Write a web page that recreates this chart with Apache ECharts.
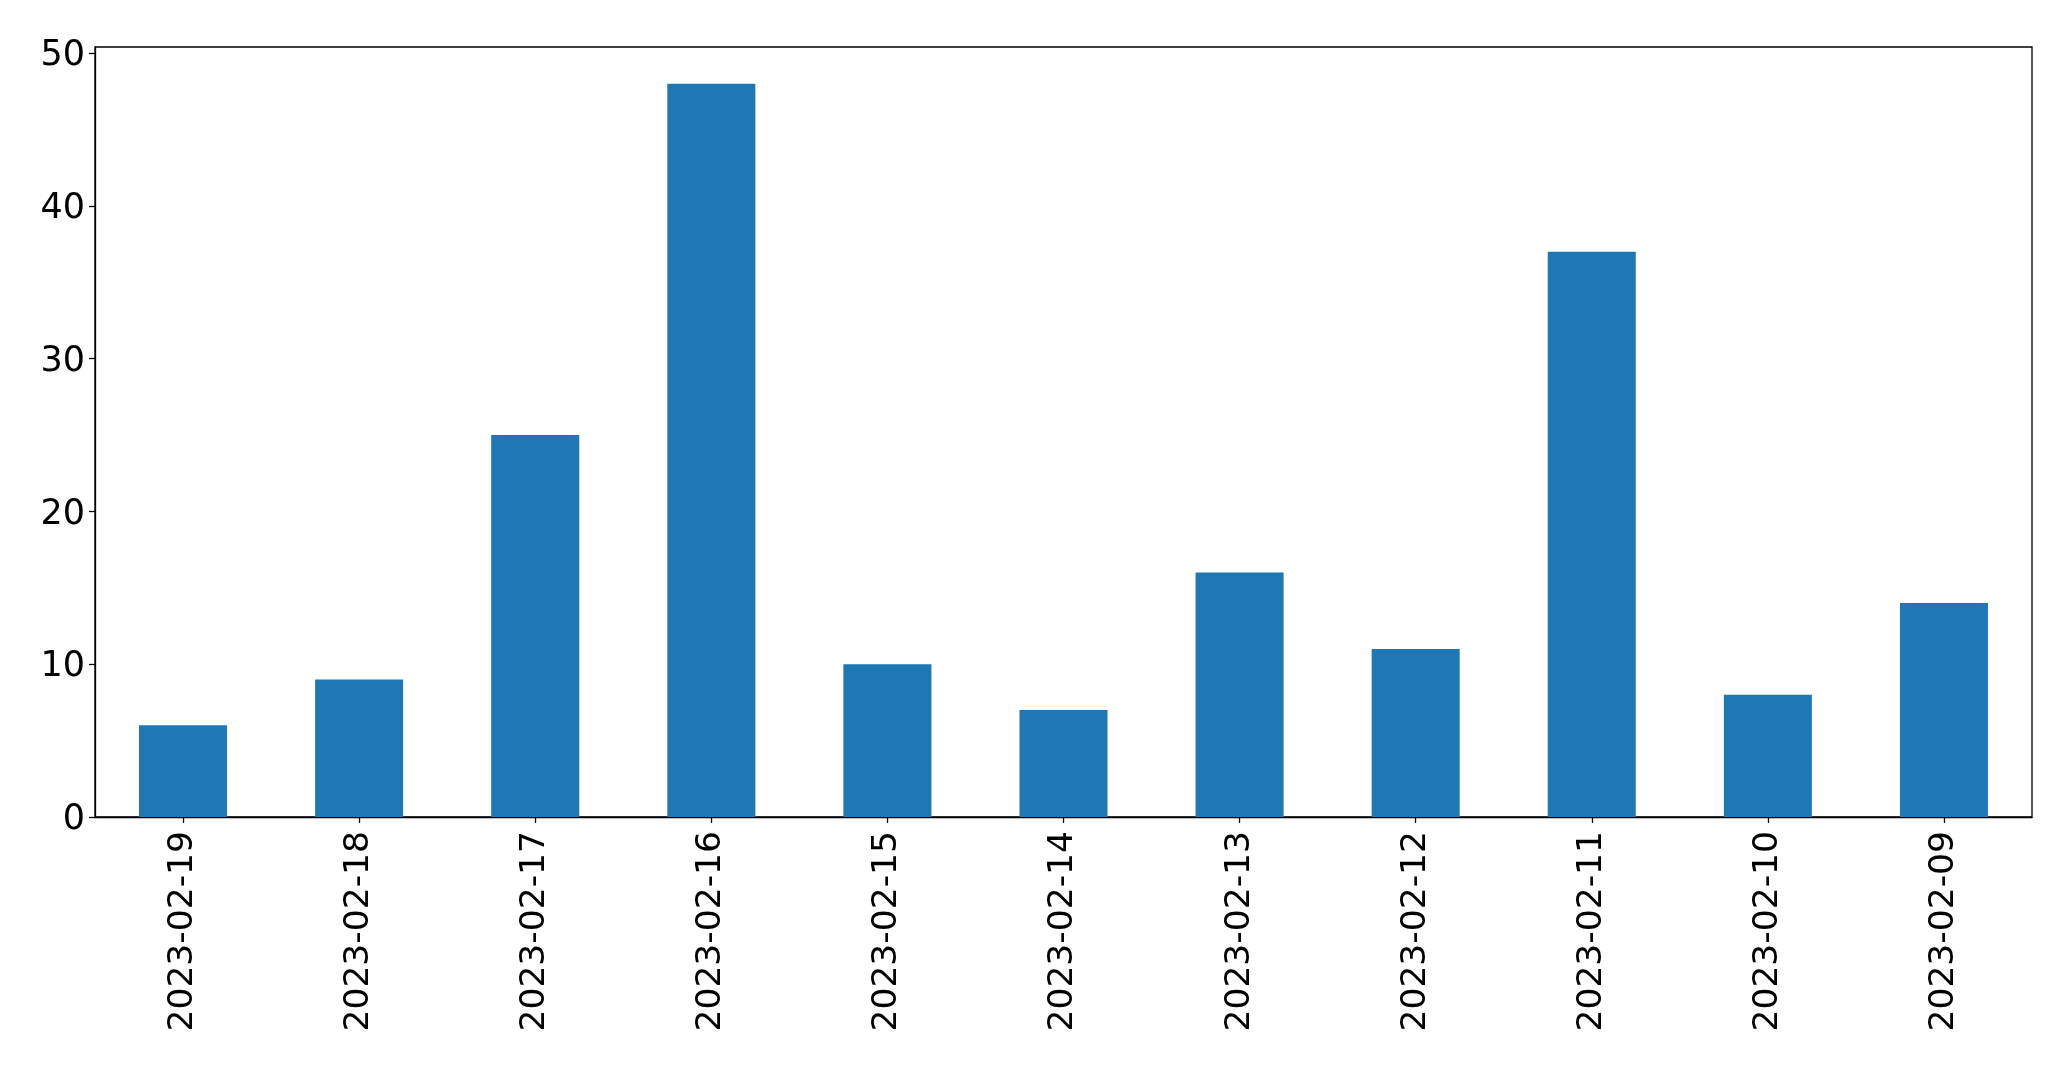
<!DOCTYPE html>
<html><head><meta charset="utf-8">
<script src="https://cdn.jsdelivr.net/npm/echarts@6/dist/echarts.min.js"></script>
<style>html,body{margin:0;padding:0;background:#fff}#c{width:2071px;height:1069px}</style>
</head><body><div id="c"></div>
<script>
const categories = ["2023-02-19","2023-02-18","2023-02-17","2023-02-16","2023-02-15","2023-02-14","2023-02-13","2023-02-12","2023-02-11","2023-02-10","2023-02-09"];
const values = [6, 9, 25, 48, 10, 7, 16, 11, 37, 8, 14];
const yTicks = [0, 10, 20, 30, 40, 50];

const chart = echarts.init(document.getElementById('c'), null, {renderer: 'canvas'});
const font = 'DejaVu Sans';
chart.setOption({
  animation: false,
  backgroundColor: '#ffffff',
  grid: {left: 95, right: 39, top: 47, bottom: 252, show: true, borderColor: '#000', borderWidth: 1.3, backgroundColor: 'transparent'},
  xAxis: {
    type: 'category', data: categories, boundaryGap: true,
    axisLine: {show: true, lineStyle: {color: '#000', width: 1.3}},
    axisTick: {show: true, alignWithLabel: true, length: 6, lineStyle: {color: '#000', width: 1.3}},
    axisLabel: {rotate: 90, fontSize: 34.5, fontFamily: font, color: '#000', margin: 14, interval: 0},
    splitLine: {show: false}
  },
  yAxis: {
    type: 'value', min: 0, max: 50.4,
    axisLine: {show: true, lineStyle: {color: '#000', width: 1.3}},
    axisTick: {show: true, length: 6, lineStyle: {color: '#000', width: 1.3}, customValues: yTicks},
    axisLabel: {
      fontSize: 35, fontFamily: font, color: '#000', margin: 10, customValues: yTicks,
      formatter: function (v) { return '{a|' + v + '}'; },
      rich: {a: {fontSize: 35, fontFamily: font, color: '#000', padding: [6, 0, 0, 0]}}
    },
    splitLine: {show: false}
  },
  series: [{type: 'bar', data: values, barWidth: '50%', itemStyle: {color: '#1f77b4'}}]
});
</script></body></html>
